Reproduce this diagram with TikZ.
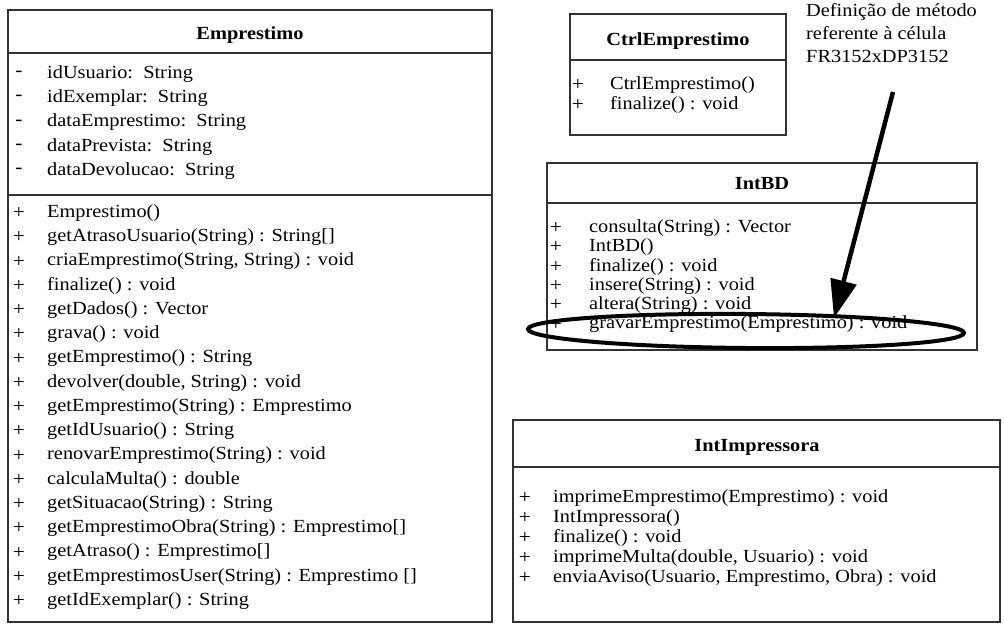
\documentclass[tikz,border=0pt]{standalone}
\usepackage{fontspec}
\setmainfont{Liberation Serif}[FakeStretch=1.1]
\usetikzlibrary{shapes.geometric,arrows.meta}
\begin{document}
\begin{tikzpicture}[x=1pt,y=-1pt,
  boxline/.style={draw=black!80, line width=1.3pt},
  txt/.style={anchor=west, inner sep=0pt, font=\fontsize{18.5}{20}\selectfont},
  vis/.style={anchor=center, inner sep=0pt, font=\fontsize{19.5}{20}\selectfont},
  ttl/.style={anchor=center, inner sep=0pt, font=\fontsize{18.5}{20}\selectfont\bfseries},
  notefont/.style={font=\fontsize{18.5}{23}\selectfont},
]
\useasboundingbox (0,0) rectangle (1004,626);

% ---------- Emprestimo ----------
\draw[boxline] (8,10) rectangle (492,622);
\draw[boxline] (8,53) -- (492,53);
\draw[boxline] (8,195) -- (492,195);
\node[ttl] (emp) at (250,35) {Emprestimo};
\foreach \t [count=\i from 0] in {idUsuario:\ \ String, idExemplar:\ \ String, dataEmprestimo:\ \ String, dataPrevista:\ \ String, dataDevolucao:\ \ String}{
  \node[vis] (empav\i) at (19,74+24.25*\i) {-};
  \node[txt] (empa\i) at (47,74+24.25*\i) {\t};
}
\foreach \t [count=\i from 0] in {Emprestimo(), getAtrasoUsuario(String) : String[], {criaEmprestimo(String, String) : void}, finalize() : void, getDados() : Vector, grava() : void, getEmprestimo() : String, {devolver(double, String) : void}, getEmprestimo(String) : Emprestimo, getIdUsuario() : String, renovarEmprestimo(String) : void, calculaMulta() : double, getSituacao(String) : String, getEmprestimoObra(String) : Emprestimo[], getAtraso() : Emprestimo[], getEmprestimosUser(String) : Emprestimo [], getIdExemplar() : String}{
  \node[vis] (empmv\i) at (19,213+24.25*\i) {+};
  \node[txt] (empm\i) at (47,213+24.25*\i) {\t};
}

% ---------- CtrlEmprestimo ----------
\draw[boxline] (570,14) rectangle (786,135);
\draw[boxline] (570,60) -- (786,60);
\node[ttl] (ctrl) at (678,41) {CtrlEmprestimo};
\foreach \t [count=\i from 0] in {CtrlEmprestimo(), finalize() : void}{
  \node[vis] (ctrlmv\i) at (578,85+20*\i) {+};
  \node[txt] (ctrlm\i) at (610,85+20*\i) {\t};
}

% ---------- IntBD ----------
\draw[boxline] (547,163) rectangle (977,350);
\draw[boxline] (547,203) -- (977,203);
\node[ttl] (intbd) at (762,184) {IntBD};
\foreach \t [count=\i from 0] in {consulta(String) : Vector, IntBD(), finalize() : void, insere(String) : void, altera(String) : void, gravarEmprestimo(Emprestimo) : void}{
  \node[vis] (bdmv\i) at (556,228+19.3*\i) {+};
  \node[txt] (bdm\i) at (589,228+19.3*\i) {\t};
}

% ---------- IntImpressora ----------
\draw[boxline] (513,420) rectangle (1000,622);
\draw[boxline] (513,467) -- (1000,467);
\node[ttl] (intimp) at (757,447) {IntImpressora};
\foreach \t [count=\i from 0] in {imprimeEmprestimo(Emprestimo) : void, IntImpressora(), finalize() : void, {imprimeMulta(double, Usuario) : void}, {enviaAviso(Usuario, Emprestimo, Obra) : void}}{
  \node[vis] (impmv\i) at (525,498+20*\i) {+};
  \node[txt] (impm\i) at (553,498+20*\i) {\t};
}

% ---------- annotation ----------
\node[notefont, anchor=north west, align=left, inner sep=0pt] (note) at (806,3)
  {Definição de método\\referente à célula\\FR3152xDP3152};
\node[draw=black, line width=4pt, ellipse, inner sep=0pt,
      minimum width=436pt, minimum height=34pt, rotate=-0.5] (hl) at (746,331) {};
\coordinate (arrS) at (893,92);
\coordinate (arrE) at (834,318);
\draw[line width=4.5pt, -{Triangle[length=38pt, width=26pt]}] (arrS) -- (arrE);
\end{tikzpicture}
\end{document}
